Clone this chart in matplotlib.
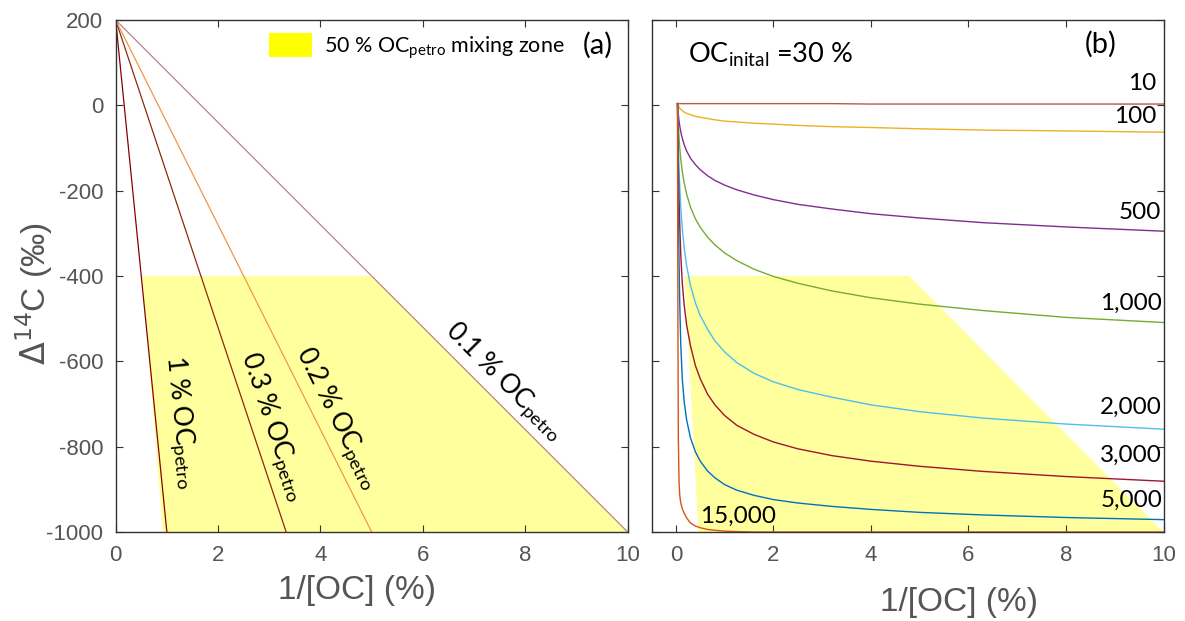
import matplotlib
matplotlib.use('Agg')
import matplotlib.pyplot as plt
from matplotlib.patches import Patch

# ---- panel (a): two end-member mixing lines ----
petro_labels = ['1', '0.3', '0.2', '0.1']          # % OC_petro
petro_end_x = [1.0, 3.33, 5.0, 10.0]               # 1/[OC] where line reaches -1000
mix_top = 200                                      # modern end member
mix_bottom = -1000                                 # petrogenic end member
zone_a_x = [0.52, 5.0, 10.0, 0.92]
zone_a_y = [-400, -400, -1000, -1000]

# ---- panel (b): OC_initial = 30 %, curves labelled by age ----
ages = ['10', '100', '500', '1,000', '2,000', '3,000', '5,000', '15,000']
xb = [0.033, 0.04, 0.05, 0.065, 0.08, 0.1, 0.13, 0.17, 0.22, 0.3, 0.4, 0.5,
      0.65, 0.8, 1.0, 1.25, 1.6, 2.0, 2.5, 3.2, 4, 5, 6.3, 8, 10]
d10 = [4, 4, 4, 4, 4, 4, 4, 4, 4, 4, 4, 4, 4, 4, 4, 4, 4, 4, 4, 4,
       3, 3, 3, 3, 3]
d100 = [4, 2, -1, -4, -7, -9, -12, -16, -19, -22, -26, -28, -31, -34, -37,
        -39, -42, -44, -47, -50, -52, -55, -58, -60, -63]
d500 = [4, -7, -21, -37, -49, -62, -77, -92, -107, -124, -139, -151, -165,
        -176, -187, -198, -210, -221, -232, -243, -254, -264, -275, -285, -295]
d1000 = [4, -19, -46, -77, -101, -126, -154, -182, -208, -239, -266, -286,
         -309, -327, -346, -364, -384, -401, -417, -435, -451, -466, -481,
         -497, -509]
d2000 = [4, -41, -93, -152, -195, -239, -288, -334, -376, -423, -463, -493,
         -525, -552, -578, -603, -628, -648, -666, -684, -702, -718, -733,
         -747, -759]
d3000 = [4, -63, -139, -221, -285, -350, -415, -468, -515, -564, -610, -641,
         -677, -702, -727, -750, -771, -789, -805, -821, -834, -846, -858,
         -870, -881]
d5000 = [4, -110, -240, -370, -470, -560, -640, -695, -737, -780, -812, -834,
         -857, -873, -889, -902, -914, -924, -932, -940, -947, -954, -960,
         -966, -971]
d15000 = [4, -450, -780, -885, -915, -932, -945, -956, -967, -979, -986, -990,
          -994, -996, -998, -999, -1000, -1000, -1000, -1000, -1000, -1000,
          -1000, -1000, -1000]
zone_b_x = [0.18, 4.78, 10.0, 0.46]
zone_b_y = [-400, -400, -1000, -1000]

yticks = [-1000, -800, -600, -400, -200, 0, 200]
xticks = [0, 2, 4, 6, 8, 10]

plt.rcParams['font.family'] = ['Liberation Sans', 'DejaVu Sans']
plt.rcParams['axes.unicode_minus'] = False
plt.rcParams['mathtext.fontset'] = 'custom'
plt.rcParams['mathtext.rm'] = 'Lato'
plt.rcParams['mathtext.it'] = 'Lato:italic'
plt.rcParams['mathtext.bf'] = 'Lato:bold'

GRAY = '#555555'
ZONE = '#FFFF9E'
ANN = 'Lato'

fig = plt.figure(figsize=(11.85, 6.21), dpi=100)
ax1 = fig.add_axes([0.0976, 0.1433, 0.4321, 0.8245])
ax2 = fig.add_axes([0.5498, 0.1433, 0.4321, 0.8245])


def style(ax):
    ax.set_ylim(-1000, 200)
    ax.set_yticks(yticks)
    ax.set_xticks(xticks)
    ax.tick_params(direction='in', top=True, right=True, length=5, width=0.8,
                   color='#333333', labelcolor=GRAY, labelsize=16, pad=9)
    for s in ax.spines.values():
        s.set_color('#333333')
        s.set_linewidth(1.0)


# ---------------- (a) ----------------
style(ax1)
ax1.set_xlim(0, 10)
ax1.fill(zone_a_x, zone_a_y, color=ZONE, lw=0, zorder=1)
colors_a = ['#8B0000', '#8B2A10', '#F29548', '#B98589']
for ex, c in zip(petro_end_x, colors_a):
    ax1.plot([0, ex], [mix_top, mix_bottom], color=c, lw=0.9, zorder=2)

ann_pos = [(1.25, -743, -84.3), (3.06, -754, -71.6), (4.31, -735, -63.4), (7.57, -648, -45)]
for lab, (x, y, r) in zip(petro_labels, ann_pos):
    ax1.text(x, y, lab + r' % OC$_{\mathrm{petro}}$', family=ANN, fontsize=19,
             rotation=r, rotation_mode='anchor', ha='center', va='center', zorder=3)

ax1.text(0.942, 0.951, '(a)', transform=ax1.transAxes, family=ANN, fontsize=21,
         ha='center', va='center')
ax1.legend(handles=[Patch(facecolor='#FFFF00', edgecolor='none',
                          label=r'50 % OC$_{\mathrm{petro}}$ mixing zone')],
           loc='upper left', bbox_to_anchor=(0.2994, 0.9746), frameon=False,
           prop={'family': ANN, 'size': 15.5}, handlelength=2.0,
           handleheight=1.35, handletextpad=0.55, borderaxespad=0, borderpad=0)

ax1.set_ylabel(r'$\Delta^{14}$C (‰)', fontsize=24, color=GRAY, math_fontfamily='dejavusans')
ax1.yaxis.set_label_coords(-0.118, 0.465)
ax1.set_xlabel('1/[OC] (%)', fontsize=24, color=GRAY)
ax1.xaxis.set_label_coords(0.471, -0.084)

# ---------------- (b) ----------------
style(ax2)
ax2.set_xlim(-0.5, 10)
ax2.tick_params(labelleft=False)
ax2.fill(zone_b_x, zone_b_y, color=ZONE, lw=0, zorder=1)
series_b = [d10, d100, d500, d1000, d2000, d3000, d5000, d15000]
colors_b = ['#B85C44', '#EDB120', '#7E2F8E', '#77AC30', '#4DBEEE', '#A2142F',
            '#0072BD', '#D95319']
for ys, c in zip(series_b, colors_b):
    ax2.plot(xb, ys, color=c, lw=1.0, zorder=2)

lab_pos = [(9.85, 50, 'right'), (9.85, -27, 'right'), (9.95, -252, 'right'),
           (9.97, -463, 'right'), (9.97, -707, 'right'), (9.97, -820, 'right'),
           (9.97, -925, 'right'), (0.5, -964, 'left')]
for lab, (x, y, ha) in zip(ages, lab_pos):
    ax2.text(x, y, lab, family=ANN, fontsize=17.5, ha=ha, va='center', zorder=3)

ax2.text(0.071, 0.916, r'OC$_{\mathrm{inital}}$ =30 %', transform=ax2.transAxes,
         family=ANN, fontsize=19.5, ha='left', va='baseline')
ax2.text(0.878, 0.953, '(b)', transform=ax2.transAxes, family=ANN, fontsize=21,
         ha='center', va='center')
ax2.set_xlabel('1/[OC] (%)', fontsize=24, color=GRAY)
ax2.xaxis.set_label_coords(0.60, -0.107)

fig.savefig('out.png', dpi=100)
